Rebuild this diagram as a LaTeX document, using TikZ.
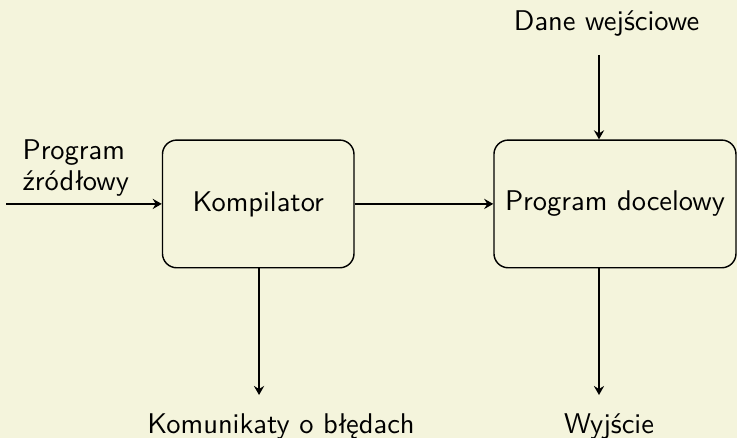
\documentclass[tikz,border=0pt]{standalone}
\usepackage{tikz}
\usetikzlibrary{arrows.meta}

\definecolor{bgbeige}{HTML}{F4F4DC}

\begin{document}
\begin{tikzpicture}[
    >={Stealth[length=3.2pt, width=3.6pt, inset=1.1pt]}, % Default arrow tip
    every node/.style={font=\sffamily},
    block/.style={draw, line width=0.5pt, rounded corners=5pt, minimum height=1.575cm}, % Rounded boxes
    flow/.style={->, line width=0.65pt} % Arrows between parts
]

% Background and picture size
\fill[bgbeige] (0,0) rectangle (9.09,-5.402);
\useasboundingbox (0,0) rectangle (9.09,-5.402);

% Boxes
\node[block, minimum width=2.362cm] (komp) at (3.185,-2.515) {Kompilator};
\node[block, minimum width=2.985cm] (prog) at (7.585,-2.515) {Program docelowy};

% Texts
\node[anchor=south west, inner sep=0pt, align=left] (zrodlo) at (0.271,-2.43) {Program\\[-1pt]źródłowy};
\node[anchor=base] (dane) at (7.481,-0.370) {Dane wejściowe};
\node[anchor=base] (wyj) at (7.511,-5.341) {Wyjście};
\node[anchor=base] (bledy) at (3.466,-5.341) {Komunikaty o błędach};

% Free ends of the arrows
\coordinate (wejscie) at (0.074,-2.515);
\coordinate (daneX) at (7.388,-0.678);
\coordinate (wyjX) at (7.388,-4.872);
\coordinate (bledyX) at (3.195,-4.872);

% Arrows
\draw[flow] (wejscie) -- (komp.west);
\draw[flow] (komp) -- (prog);
\draw[flow] (daneX) -- (daneX |- prog.north);
\draw[flow] (wyjX |- prog.south) -- (wyjX);
\draw[flow] (bledyX |- komp.south) -- (bledyX);

\end{tikzpicture}
\end{document}
